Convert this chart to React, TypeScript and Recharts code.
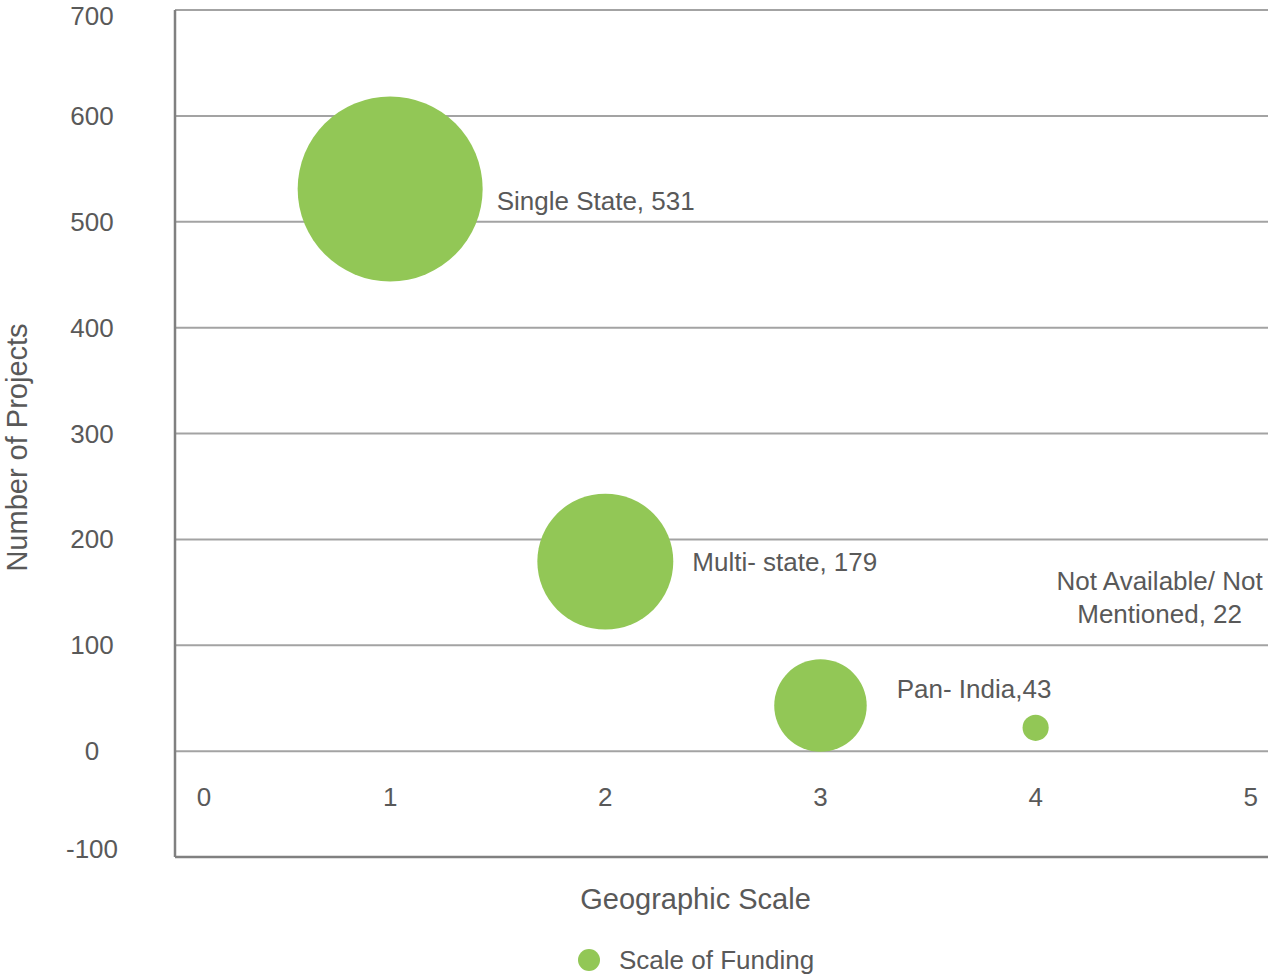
import React from "react";
import { ScatterChart, Scatter, XAxis, YAxis, ZAxis, CartesianGrid, Legend, Label } from "recharts";

// values
const categories = ["Single State", "Multi- state", "Pan- India", "Not Available/ Not Mentioned"];
const geoScale = [1, 2, 3, 4];
const projectCounts = [531, 179, 43, 22];
const fundingSize = [100, 54, 25, 2];
const labelLines = [
  ["Single State, 531"],
  ["Multi- state, 179"],
  ["Pan- India,43"],
  ["Not Available/ Not", "Mentioned, 22"],
];
const xTicks = [0, 1, 2, 3, 4, 5];
const yTicks = [-100, 0, 100, 200, 300, 400, 500, 600, 700];

const data = categories.map((name, i) => ({
  name,
  x: geoScale[i],
  y: projectCounts[i],
  z: fundingSize[i],
  i,
}));

const GREEN = "#92c756";
const TEXT = "#595959";
const GRID = "#a3a3a3";
const AXIS = "#808080";
const FONT = '"Liberation Sans", Arial, sans-serif';

// where each bubble's label sits relative to the bubble
const labelLayout = [
  { anchor: "start", gap: 14, dy: 21 },
  { anchor: "start", gap: 19, dy: 9 },
  { anchor: "start", gap: 30, dy: -8 },
  { anchor: "middle", gap: 124, dy: -138 },
];

const Bubble = (props: any) => {
  const { cx, cy, width, payload } = props;
  const r = width / 2;
  const lp = labelLayout[payload.i];
  const tx = lp.anchor === "start" ? cx + r + lp.gap : cx + lp.gap;
  return (
    <g>
      <circle cx={cx} cy={cy} r={r} fill={GREEN} />
      <text x={tx} y={cy + lp.dy} textAnchor={lp.anchor} fontSize={26} fill={TEXT} fontFamily={FONT}>
        {labelLines[payload.i].map((line, k) => (
          <tspan key={k} x={tx} dy={k === 0 ? 0 : 33}>
            {line}
          </tspan>
        ))}
      </text>
    </g>
  );
};

const YTick = ({ x, y, payload }: any) => {
  // keep the end labels inside the frame like the reference does
  const mid = Math.min(Math.max(y, 16), 849);
  return (
    <text x={x - 83} y={mid + 9} textAnchor="middle" fontSize={26} fill={TEXT} fontFamily={FONT}>
      {payload.value}
    </text>
  );
};

const XTick = ({ x, y, payload }: any) => (
  <text
    x={x + (payload.value === 0 ? 29 : 0)}
    y={y - 51}
    textAnchor="middle"
    fontSize={26}
    fill={TEXT}
    fontFamily={FONT}
  >
    {payload.value}
  </text>
);

const LegendContent = () => (
  <div style={{ display: "flex", alignItems: "center", height: 32, fontFamily: FONT, fontSize: 26, color: TEXT }}>
    <svg width={22} height={22} style={{ display: "block" }}>
      <circle cx={11} cy={11} r={11} fill={GREEN} />
    </svg>
    <span style={{ marginLeft: 19, lineHeight: "32px", whiteSpace: "nowrap" }}>Scale of Funding</span>
  </div>
);

export default function App() {
  return (
    <div style={{ position: "absolute", left: 0, top: 0 }}>
      <ScatterChart width={1271} height={975} margin={{ top: 10, right: 3, left: 0, bottom: 26 }} style={{ fontFamily: FONT }}>
        <CartesianGrid vertical={false} stroke={GRID} strokeWidth={2} />
        <XAxis
          type="number"
          dataKey="x"
          domain={[0, 5.08]}
          ticks={xTicks}
          height={60}
          tickLine={false}
          tickSize={0}
          tickMargin={0}
          axisLine={{ stroke: AXIS, strokeWidth: 2.5 }}
          tick={<XTick />}
          interval={0}
        >
          <Label
            content={({ viewBox }: any) => (
              <text
                x={viewBox.x + viewBox.width / 2 - 26}
                y={viewBox.y + 52}
                textAnchor="middle"
                fontSize={29}
                fill={TEXT}
                fontFamily={FONT}
              >
                Geographic Scale
              </text>
            )}
          />
        </XAxis>
        <YAxis
          type="number"
          dataKey="y"
          domain={[-100, 700]}
          ticks={yTicks}
          width={175}
          tickLine={false}
          tickSize={0}
          tickMargin={0}
          axisLine={{ stroke: AXIS, strokeWidth: 2.5 }}
          tick={<YTick />}
          interval={0}
        >
          <Label
            content={({ viewBox }: any) => {
              const cx = 27;
              const cy = viewBox.y + viewBox.height / 2 + 14;
              return (
                <text
                  x={cx}
                  y={cy}
                  transform={`rotate(-90 ${cx} ${cy})`}
                  textAnchor="middle"
                  fontSize={29}
                  fill={TEXT}
                  fontFamily={FONT}
                >
                  Number of Projects
                </text>
              );
            }}
          />
        </YAxis>
        <ZAxis type="number" dataKey="z" domain={[0, 100]} range={[0, 26880]} />
        <Legend
          verticalAlign="bottom"
          content={<LegendContent />}
          wrapperStyle={{ left: 578, top: 944, bottom: "auto", width: 260, height: 32 }}
        />
        <Scatter name="Scale of Funding" data={data} fill={GREEN} shape={<Bubble />} isAnimationActive={false} />
      </ScatterChart>
    </div>
  );
}
